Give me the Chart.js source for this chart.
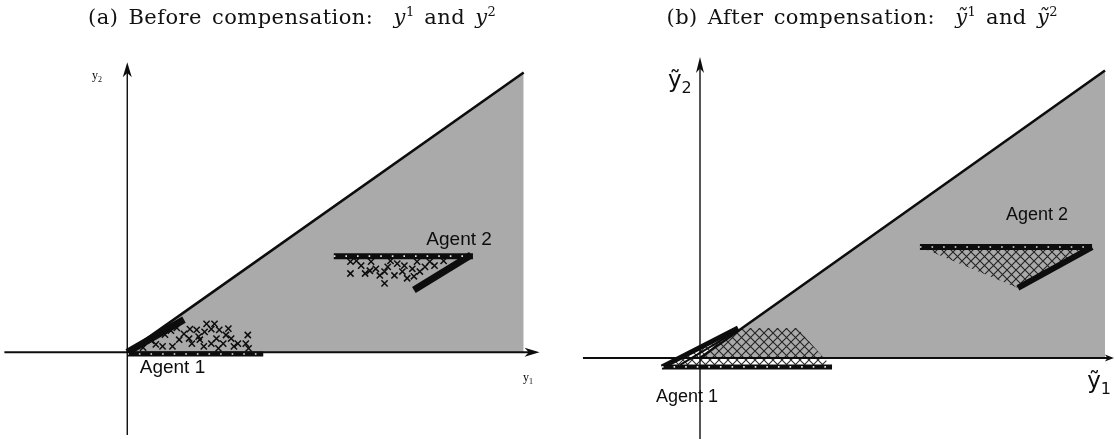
<!DOCTYPE html>
<html>
<head>
<meta charset="utf-8">
<script src="https://cdn.jsdelivr.net/npm/chart.js@4.4.1/dist/chart.umd.min.js"></script>
<style>
  html, body { margin: 0; padding: 0; background: #fff; }
  #wrap { position: relative; width: 1115px; height: 439px; overflow: hidden; }
  #wrap canvas { position: absolute; top: 0; }
  .ttl { position: absolute; top: 5px; font-family: "DejaVu Serif", "Liberation Serif", serif;
         font-size: 21px; letter-spacing: 0.45px; word-spacing: 3px; color: #111; text-align: center; white-space: nowrap; }
  .ttl sup { font-size: 13px; position: relative; top: -8px; vertical-align: baseline; letter-spacing: 0; }
</style>
</head>
<body>
<div id="wrap">
  <canvas id="before" width="557" height="439" style="left:0"></canvas>
  <canvas id="after" width="558" height="439" style="left:557px"></canvas>
  <div class="ttl" style="left:0;width:584px">(a) Before compensation:&nbsp; <i>y</i><sup>1</sup> and <i>y</i><sup>2</sup></div>
  <div class="ttl" style="left:562px;width:600px">(b) After compensation:&nbsp; <i>ỹ</i><sup>1</sup> and <i>ỹ</i><sup>2</sup></div>
</div>
<script>
// Feasible wedge: bounded by the y1 axis and the ray y2 = 0.71 * y1
const wedgeEdge = [[0, 0], [10, 7.1]];

// (a) before compensation
const a1FlatBefore = [[0, -0.04], [3.43, -0.04]];
const a1DiagBefore = [[0, 0], [1.43, 0.83]];
const a1CloudX = [2.20, 2.12, 1.95, 1.75, 1.58, 1.43, 1.83, 2.32, 2.49, 2.62, 2.79, 3.04, 2.99, 3.06,
                  2.42, 2.12, 1.63, 1.31, 1.14, 0.89, 0.72, 1.56, 1.93, 2.30, 2.69, 2.00, 1.80,
                  0.95, 1.10, 0.60, 0.40, 2.55, 1.25, 2.25];
const a1CloudY = [0.72, 0.59, 0.52, 0.57, 0.59, 0.47, 0.32, 0.57, 0.44, 0.35, 0.22, 0.44, 0.22, 0.10,
                  0.22, 0.22, 0.22, 0.32, 0.15, 0.15, 0.20, 0.35, 0.15, 0.10, 0.15, 0.72, 0.40,
                  0.45, 0.55, 0.30, 0.12, 0.60, 0.62, 0.35];
const a2FlatBefore = [[5.21, 2.44], [8.72, 2.44]];
const a2DiagBefore = [[7.23, 1.58], [8.67, 2.47]];
const a2CloudX = [5.63, 5.63, 5.90, 6.00, 6.15, 6.27, 6.37, 6.49, 6.57, 6.74, 6.81, 6.94, 7.06,
                  7.19, 7.31, 7.38, 7.51, 7.63, 7.75, 7.98, 6.49, 6.12, 5.78, 6.99, 6.64, 7.23];
const a2CloudY = [2.30, 2.00, 2.20, 2.00, 2.30, 2.12, 1.95, 1.75, 2.17, 1.95, 2.25, 2.05, 1.88,
                  2.12, 2.30, 2.05, 2.17, 2.30, 2.20, 2.32, 2.05, 2.07, 2.32, 2.20, 2.32, 1.93];

// (b) after compensation
const a1FlatAfter = [[-0.94, -0.22], [3.26, -0.22]];
const a1DiagAfter = [[-0.94, -0.22], [0.94, 0.74]];
const a1InnerAfter = [[-0.49, -0.17], [0.94, 0.69]];
const a1HullAfter = [[-0.94, -0.22], [0.94, 0.74], [2.40, 0.74], [3.26, -0.22], [-0.94, -0.22]];
const a2FlatAfter = [[5.43, 2.74], [9.68, 2.74]];
const a2DiagAfter = [[7.85, 1.73], [9.68, 2.74]];
const a2HullAfter = [[5.43, 2.74], [9.68, 2.74], [7.85, 1.73], [5.43, 2.74]];

const GREY = '#aaaaaa';
const INK = '#0d0d0d';

const pts = arr => arr.map(([x, y]) => ({ x, y }));
const zip = (xs, ys) => xs.map((x, i) => ({ x, y: ys[i] }));

// diagonal cross-hatch used for the reachable sets after compensation
function hatchPattern() {
  const s = 9;
  const c = document.createElement('canvas');
  c.width = s; c.height = s;
  const g = c.getContext('2d');
  g.strokeStyle = 'rgba(20,20,20,0.9)';
  g.lineWidth = 1.1;
  g.beginPath();
  g.moveTo(-1, -1); g.lineTo(s + 1, s + 1);
  g.moveTo(-1, s + 1); g.lineTo(s + 1, -1);
  g.stroke();
  return g.createPattern(c, 'repeat');
}

function wedgeSets() {
  return [
    { type: 'line', data: pts(wedgeEdge), borderWidth: 0, borderColor: 'rgba(0,0,0,0)',
      backgroundColor: GREY, fill: 'origin', pointRadius: 0, order: 20 },
    { type: 'line', data: pts(wedgeEdge), borderWidth: 2.6, borderColor: INK,
      fill: false, pointRadius: 0, order: 2 }
  ];
}
function band(seg, width, order) {
  return { type: 'line', data: pts(seg), borderWidth: width, borderColor: INK, borderCapStyle: 'butt',
           fill: false, pointRadius: 0, order };
}
function dots(seg, order) {
  return { type: 'line', data: pts(seg), borderWidth: 1.6, borderColor: 'rgba(255,255,255,0.9)',
           borderDash: [1.6, 10], borderCapStyle: 'butt', fill: false, pointRadius: 0, order };
}
function cloud(xs, ys) {
  return { type: 'scatter', data: zip(xs, ys), pointStyle: 'crossRot', pointRadius: 4.4,
           pointBorderWidth: 1.5, borderColor: INK, backgroundColor: INK, order: 3 };
}
function hull(poly, pattern) {
  return { type: 'line', data: pts(poly), borderWidth: 0, borderColor: 'rgba(0,0,0,0)',
           backgroundColor: pattern, fill: 'shape', pointRadius: 0, order: 10 };
}

function arrowHead(ctx, tx, ty, ang, len, half) {
  ctx.save();
  ctx.translate(tx, ty);
  ctx.rotate(ang);
  ctx.beginPath();
  ctx.moveTo(0, 0);
  ctx.lineTo(-len, -half);
  ctx.lineTo(-len * 0.72, 0);
  ctx.lineTo(-len, half);
  ctx.closePath();
  ctx.fill();
  ctx.restore();
}

// axes with arrowheads, axis names and agent captions
const sketchAxes = {
  id: 'sketchAxes',
  afterDatasetsDraw(chart, args, o) {
    const { ctx } = chart;
    const X = v => chart.scales.x.getPixelForValue(v);
    const Y = v => chart.scales.y.getPixelForValue(v);
    ctx.save();
    ctx.strokeStyle = INK;
    ctx.fillStyle = INK;
    // horizontal axis
    ctx.lineWidth = o.h.width;
    ctx.beginPath();
    ctx.moveTo(X(o.h.from), Y(0));
    ctx.lineTo(X(o.h.to) - o.h.len * 0.6, Y(0));
    ctx.stroke();
    arrowHead(ctx, X(o.h.to), Y(0), 0, o.h.len, o.h.half);
    // vertical axis
    ctx.lineWidth = o.v.width;
    ctx.beginPath();
    ctx.moveTo(X(0), Y(o.v.from));
    ctx.lineTo(X(0), Y(o.v.to) + o.v.len * 0.6);
    ctx.stroke();
    arrowHead(ctx, X(0), Y(o.v.to), -Math.PI / 2, o.v.len, o.v.half);
    // axis names with subscripts
    ctx.textBaseline = 'alphabetic';
    ctx.textAlign = 'left';
    for (const n of o.names) {
      const x0 = X(n.x), y0 = Y(n.y);
      ctx.font = n.font;
      ctx.fillText(n.main, x0, y0);
      const w = ctx.measureText(n.main).width;
      ctx.font = n.subFont;
      ctx.fillText(n.sub, x0 + w + (n.gap || 0), y0 + n.drop);
    }
    // captions
    ctx.textAlign = 'center';
    ctx.textBaseline = 'middle';
    for (const c of o.captions) {
      ctx.font = c.font;
      ctx.fillText(c.text, X(c.x), Y(c.y));
    }
    ctx.restore();
  }
};

function makeChart(id, datasets, xr, yr, axesOpts) {
  return new Chart(document.getElementById(id), {
    type: 'scatter',
    data: { datasets },
    options: {
      responsive: false,
      animation: false,
      devicePixelRatio: 1,
      layout: { padding: 0 },
      scales: {
        x: { type: 'linear', min: xr[0], max: xr[1], display: false },
        y: { type: 'linear', min: yr[0], max: yr[1], display: false }
      },
      plugins: {
        legend: { display: false },
        tooltip: { enabled: false },
        sketchAxes: axesOpts
      }
    },
    plugins: [sketchAxes]
  });
}

const PX = 40.5; // pixels per unit on both panels

// (a) before compensation
makeChart('before', [
  ...wedgeSets(),
  band(a1FlatBefore, 5, 4), dots(a1FlatBefore, 1),
  band(a1DiagBefore, 7, 4),
  cloud(a1CloudX, a1CloudY),
  band(a2FlatBefore, 6, 4), dots(a2FlatBefore, 1),
  band(a2DiagBefore, 7, 4),
  cloud(a2CloudX, a2CloudY)
], [-124 / PX, (557 - 124) / PX], [-(439 - 356) / PX, 356 / PX], {
  h: { from: -3.1, to: 10.4, width: 2, len: 15, half: 4.5 },
  v: { from: -2.1, to: 7.36, width: 1.4, len: 15, half: 4.5 },
  names: [
    { main: 'y', sub: '2', x: -0.89, y: 6.94, font: '12px "Liberation Serif"', subFont: '8px "Liberation Serif"', drop: 3 },
    { main: 'y', sub: '1', x: 9.98, y: -0.72, font: '12px "Liberation Serif"', subFont: '8px "Liberation Serif"', drop: 3 }
  ],
  captions: [
    { text: 'Agent 1', x: 1.14, y: -0.40, font: '19px "Liberation Sans"' },
    { text: 'Agent 2', x: 8.37, y: 2.86, font: '19px "Liberation Sans"' }
  ]
});

// (b) after compensation
const hatch = hatchPattern();
makeChart('after', [
  ...wedgeSets(),
  hull(a1HullAfter, hatch),
  band(a1FlatAfter, 5, 4), dots(a1FlatAfter, 1),
  band(a1DiagAfter, 5, 4),
  band(a1InnerAfter, 2, 4),
  hull(a2HullAfter, hatch),
  band(a2FlatAfter, 6, 4), dots(a2FlatAfter, 1),
  band(a2DiagAfter, 6, 4)
], [-143 / PX, (558 - 143) / PX], [-81 / PX, 358 / PX], {
  h: { from: -2.89, to: 10.22, width: 2.2, len: 9, half: 3.5 },
  v: { from: -2.1, to: 7.43, width: 1.4, len: 16, half: 4 },
  names: [
    { main: 'ỹ', sub: '2', x: -0.79, y: 6.69, font: '23px "DejaVu Sans"', subFont: '16px "DejaVu Sans"', drop: 6 },
    { main: 'ỹ', sub: '1', x: 9.56, y: -0.74, font: '23px "DejaVu Sans"', subFont: '16px "DejaVu Sans"', drop: 6 }
  ],
  captions: [
    { text: 'Agent 1', x: -0.32, y: -0.96, font: '18px "Liberation Sans"' },
    { text: 'Agent 2', x: 8.32, y: 3.53, font: '18px "Liberation Sans"' }
  ]
});
</script>
</body>
</html>
